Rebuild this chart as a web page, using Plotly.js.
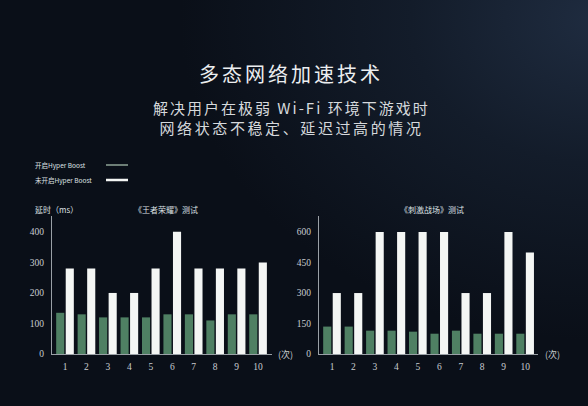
<!DOCTYPE html>
<html><head><meta charset="utf-8">
<script src="https://cdn.plot.ly/plotly-3.0.1.min.js"></script>
<style>
html,body{margin:0;padding:0;width:588px;height:406px;overflow:hidden;
background: radial-gradient(ellipse 420px 320px at 600px 20px, #1f2c40 0%, #131c2a 45%, #0a0f18 100%);}
#chart{width:588px;height:406px;}
.annotation[data-index="0"] text{letter-spacing:3px;}
.annotation[data-index="1"] text{letter-spacing:2px;}
.annotation[data-index="2"] text{letter-spacing:2.6px;}
</style>
</head><body><div id="chart"></div>
<script>
const runs = [1,2,3,4,5,6,7,8,9,10];
const runLabels = ['1','2','3','4','5','6','7','8','9','10'];
const kingOn  = [135,130,120,120,120,130,130,110,130,130];
const kingOff = [280,280,200,200,280,400,280,280,280,300];
const pubgOn  = [135,135,115,115,110,100,115,100,100,100];
const pubgOff = [300,300,600,600,600,600,300,300,600,500];
const leftTicks = [0,100,200,300,400];
const rightTicks = [0,150,300,450,600];

const green = '#4f8063';
const white = '#f4f6f4';
const txt = '#dde0e3';
const serif = 'Liberation Serif, DejaVu Serif, serif';
const cjk = 'Noto Sans CJK SC, Noto Sans, sans-serif';

const traces = [
  {type:'bar', x:runs, y:kingOn, marker:{color:green}, xaxis:'x', yaxis:'y', name:'开启Hyper Boost', hoverinfo:'none'},
  {type:'bar', x:runs, y:kingOff, marker:{color:white}, xaxis:'x', yaxis:'y', name:'未开启Hyper Boost', hoverinfo:'none'},
  {type:'bar', x:runs, y:pubgOn, marker:{color:green}, xaxis:'x2', yaxis:'y2', name:'开启Hyper Boost', hoverinfo:'none'},
  {type:'bar', x:runs, y:pubgOff, marker:{color:white}, xaxis:'x2', yaxis:'y2', name:'未开启Hyper Boost', hoverinfo:'none'}
];

const xa = (dom, rng) => ({domain:dom, range:rng, tickvals:runs, ticktext:runLabels,
  showline:true, linecolor:'#9aa0a6', linewidth:1, showgrid:false, zeroline:false,
  ticks:'outside', ticklen:4, tickcolor:'rgba(0,0,0,0)',
  tickfont:{family:serif, size:9.5, color:'#c8ccd0'}, fixedrange:true});
const ya = (rng, tv, anchor) => ({domain:[0.128,0.468], range:rng, tickvals:tv, anchor:anchor,
  showline:true, linecolor:'#9aa0a6', linewidth:1, showgrid:false, zeroline:false,
  ticks:'outside', ticklen:5, tickcolor:'rgba(0,0,0,0)',
  tickfont:{family:serif, size:9.5, color:'#c8ccd0'}, fixedrange:true});

const layout = {
  width:588, height:406, margin:{l:0,r:0,t:0,b:0},
  paper_bgcolor:'rgba(0,0,0,0)', plot_bgcolor:'rgba(0,0,0,0)',
  showlegend:false, barmode:'group', bargap:0.11, bargroupgap:0.15,
  xaxis: xa([52/588, 272/588], [0.394, 10.65]),
  yaxis: ya([0,452], leftTicks, 'x'),
  xaxis2: Object.assign(xa([319/588, 538/588], [0.394, 10.6]), {anchor:'y2'}),
  yaxis2: ya([0,679], rightTicks, 'x2'),
  annotations:[
    {text:'多态网络加速技术', x:0.495, y:0.818, xref:'paper', yref:'paper', showarrow:false, xanchor:'center', yanchor:'middle', font:{family:cjk, size:20, color:'#eceef0'}},
    {text:'解决用户在极弱 Wi-Fi 环境下游戏时', x:0.495, y:0.734, xref:'paper', yref:'paper', showarrow:false, xanchor:'center', yanchor:'middle', font:{family:cjk, size:15, color:'#d6d9dc'}},
    {text:'网络状态不稳定、延迟过高的情况', x:0.495, y:0.687, xref:'paper', yref:'paper', showarrow:false, xanchor:'center', yanchor:'middle', font:{family:cjk, size:15, color:'#d6d9dc'}},
    {text:'开启Hyper Boost', x:33/588, y:(406-165)/406, xref:'paper', yref:'paper', showarrow:false, xanchor:'left', yanchor:'middle', font:{family:cjk, size:6.5, color:txt}},
    {text:'未开启Hyper Boost', x:33/588, y:(406-180)/406, xref:'paper', yref:'paper', showarrow:false, xanchor:'left', yanchor:'middle', font:{family:cjk, size:6.5, color:txt}},
    {text:'延时（ms）', x:33/588, y:(406-210)/406, xref:'paper', yref:'paper', showarrow:false, xanchor:'left', yanchor:'middle', font:{family:cjk, size:8, color:txt}},
    {text:'《王者荣耀》测试', x:166/588, y:(406-210)/406, xref:'paper', yref:'paper', showarrow:false, xanchor:'center', yanchor:'middle', font:{family:cjk, size:8, color:txt}},
    {text:'《刺激战场》测试', x:432/588, y:(406-210)/406, xref:'paper', yref:'paper', showarrow:false, xanchor:'center', yanchor:'middle', font:{family:cjk, size:8, color:txt}},
    {text:'(次)', x:276/588, y:(406-354)/406, xref:'paper', yref:'paper', showarrow:false, xanchor:'left', yanchor:'middle', font:{family:cjk, size:9, color:'#c8ccd0'}},
    {text:'(次)', x:543/588, y:(406-354)/406, xref:'paper', yref:'paper', showarrow:false, xanchor:'left', yanchor:'middle', font:{family:cjk, size:9, color:'#c8ccd0'}}
  ],
  shapes:[
    {type:'line', xref:'paper', yref:'paper', x0:106/588, x1:128/588, y0:(406-165)/406, y1:(406-165)/406, line:{color:'#8fa596', width:1.5}},
    {type:'line', xref:'paper', yref:'paper', x0:106/588, x1:128/588, y0:(406-180)/406, y1:(406-180)/406, line:{color:'#f4f6f4', width:2.5}}
  ]
};
Plotly.newPlot('chart', traces, layout, {staticPlot:true, displayModeBar:false});
</script></body></html>
